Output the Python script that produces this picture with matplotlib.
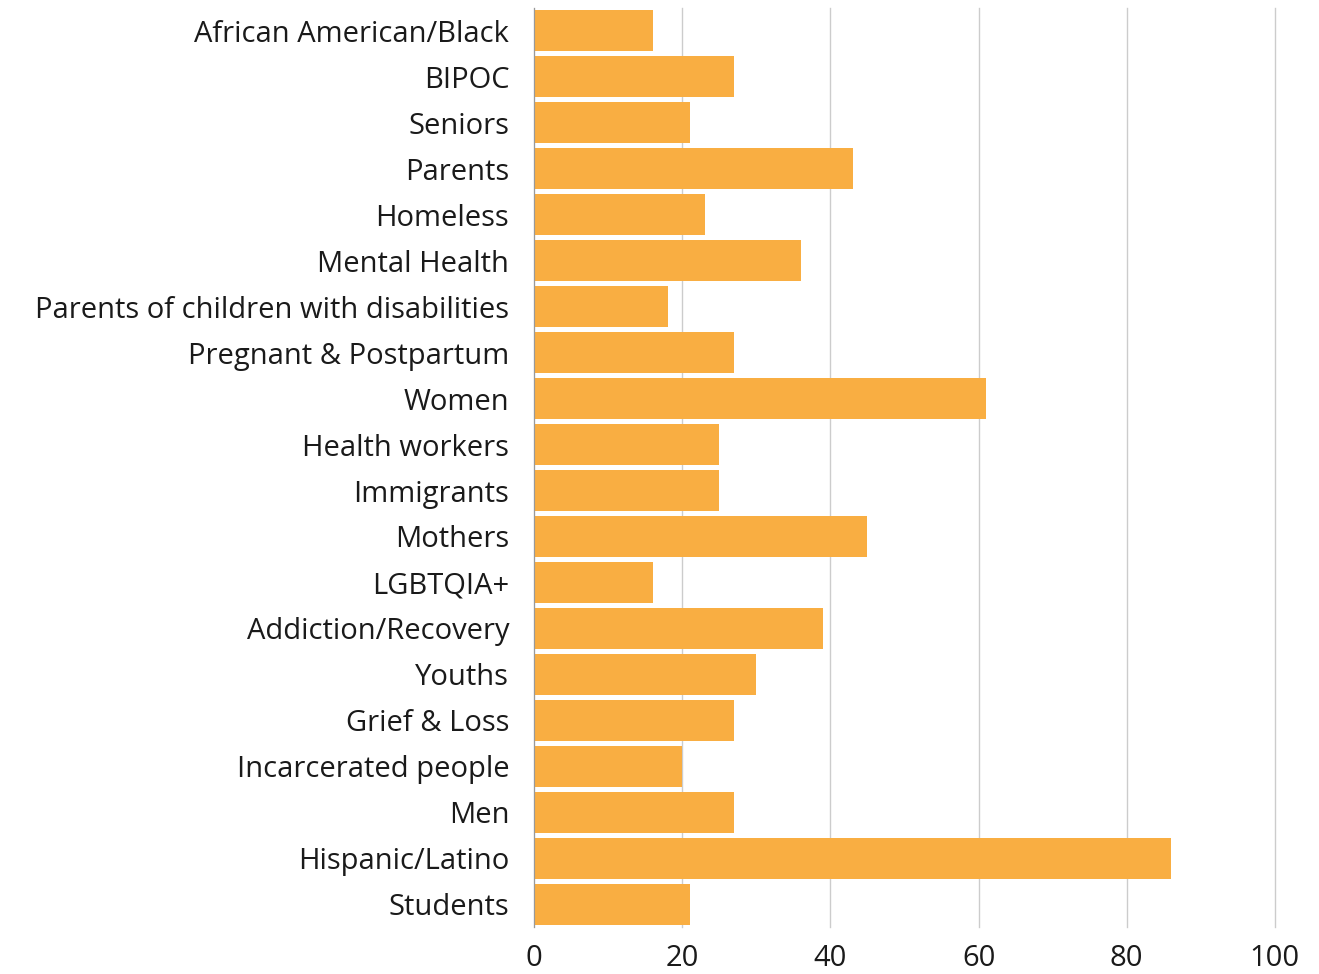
import numpy as np
import matplotlib.pyplot as plt

categories = ["African American/Black", "BIPOC", "Seniors", "Parents", "Homeless",
              "Mental Health", "Parents of children with disabilities",
              "Pregnant & Postpartum", "Women", "Health workers", "Immigrants",
              "Mothers", "LGBTQIA+", "Addiction/Recovery", "Youths", "Grief & Loss",
              "Incarcerated people", "Men", "Hispanic/Latino", "Students"]
values = [16, 27, 21, 43, 23, 36, 18, 27, 61, 25, 25, 45, 16, 39, 30, 27, 20, 27, 86, 21]
xticks = [0, 20, 40, 60, 80, 100]

plt.rcParams['font.family'] = ['Open Sans', 'DejaVu Sans']

fig = plt.figure(figsize=(13.19, 9.74), dpi=100)
ax = fig.add_axes([0.405, 0.048, 0.5615, 0.944])

y = np.arange(len(categories))
ax.barh(y, values, height=0.9, color="#F9AE42", zorder=3)

ax.set_xlim(0, 100)
ax.set_ylim(len(categories) - 0.5, -0.5)
ax.set_yticks(y)
ax.set_yticklabels(categories, fontsize=21, color="#1a1a1a")
ax.set_xticks(xticks)
ax.set_xticklabels([str(t) for t in xticks], fontsize=21, color="#1a1a1a")
ax.tick_params(axis="both", length=0)
ax.tick_params(axis="y", pad=18)
ax.tick_params(axis="x", pad=12)
ax.grid(axis="x", color="#cccccc", linewidth=1, zorder=0)
for gl in ax.get_xgridlines():
    gl.set_clip_on(False)
for s in ["top", "right", "bottom"]:
    ax.spines[s].set_visible(False)
ax.spines["left"].set_color("#999999")
ax.spines["left"].set_zorder(4)

fig.savefig("out.png", dpi=100)
